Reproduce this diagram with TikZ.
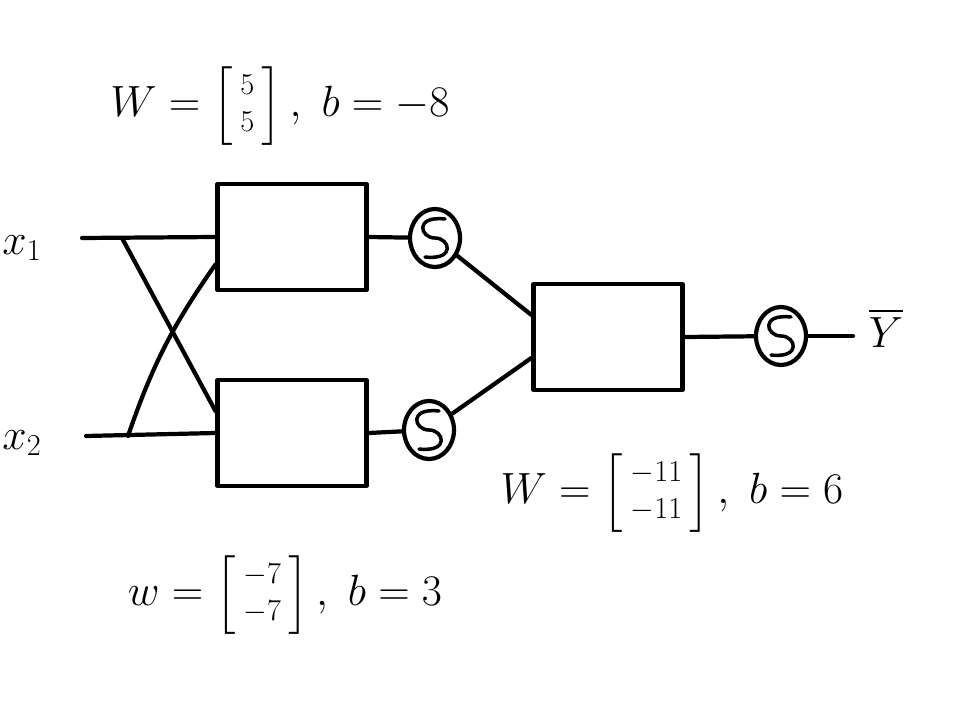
\documentclass[tikz,border=0pt]{standalone}
\usepackage{amsmath}
\usepackage{tikz}
\usetikzlibrary{positioning,calc,shapes.geometric}

\newcommand{\wvec}[2]{\left[\renewcommand{\arraystretch}{0.75}\begin{array}{@{\,}c@{\,}}\scriptstyle #1\\ \scriptstyle #2\end{array}\right]}

\begin{document}
\begin{tikzpicture}[
    x=0.02cm, y=-0.02cm,
    every path/.style={line width=2.4pt, line cap=round, line join=round},
    unit/.style={draw, line width=2.4pt, minimum width=2.98cm, minimum height=2.12cm, inner sep=0pt},
    sig/.style={draw, ellipse, line width=2.4pt, minimum width=1.0cm, minimum height=1.16cm, inner sep=0pt,
        path picture={\draw[line width=2pt] ($(path picture bounding box.center)+(0.2cm,0.38cm)$)
            .. controls ($(path picture bounding box.center)+(-0.42cm,0.45cm)$) and ($(path picture bounding box.center)+(-0.3cm,0cm)$) .. (path picture bounding box.center)
            .. controls ($(path picture bounding box.center)+(0.3cm,0cm)$) and ($(path picture bounding box.center)+(0.42cm,-0.45cm)$) .. ($(path picture bounding box.center)+(-0.2cm,-0.38cm)$);}},
    lbl/.style={font=\fontsize{24}{28}\selectfont, inner sep=1pt},
]
\useasboundingbox (0,0) rectangle (953,706);

% inputs
\node[lbl] (x1) at (22,248) {$x_1$};
\node[lbl] (x2) at (22,443) {$x_2$};
\coordinate (in1) at (82,238);
\coordinate (in2) at (86,436);
\coordinate (c1) at (122,238);
\coordinate (c2) at (128,436);

% hidden layer
\node[unit] (h1) at (292,237) {};
\node[unit] (h2) at (292,433) {};
\node[sig] (s1) at (435,238) {};
\node[sig] (s2) at (429,430) {};

\draw (in1) -- (h1.west);
\draw (in2) -- (h2.west);
\draw (c1) -- ($(h2.north west)!0.3!(h2.south west)$);
\draw (c2) to[bend left=8] ($(h1.north west)!0.75!(h1.south west)$);
\draw (h1.east) -- (s1);
\draw (h2.east) -- (s2);

% output layer
\node[unit] (o) at (608,337) {};
\node[sig] (s3) at (781,336) {};
\coordinate (out) at (853,336);
\node[lbl] (y) at (886,328) {$\overline{Y}$};

\draw (s1) -- ($(o.north west)!0.3!(o.south west)$);
\draw (s2) -- ($(o.north west)!0.69!(o.south west)$);
\draw (o.east) -- (s3);
\draw (s3) -- (out);

% parameters
\node[lbl] (p1) at (280,106) {$W=\wvec{5}{5},\ b=-8$};
\node[lbl] (p2) at (285,595) {$w=\wvec{-7}{-7},\ b=3$};
\node[lbl] (p3) at (672,493) {$W=\wvec{-11}{-11},\ b=6$};
\end{tikzpicture}
\end{document}
